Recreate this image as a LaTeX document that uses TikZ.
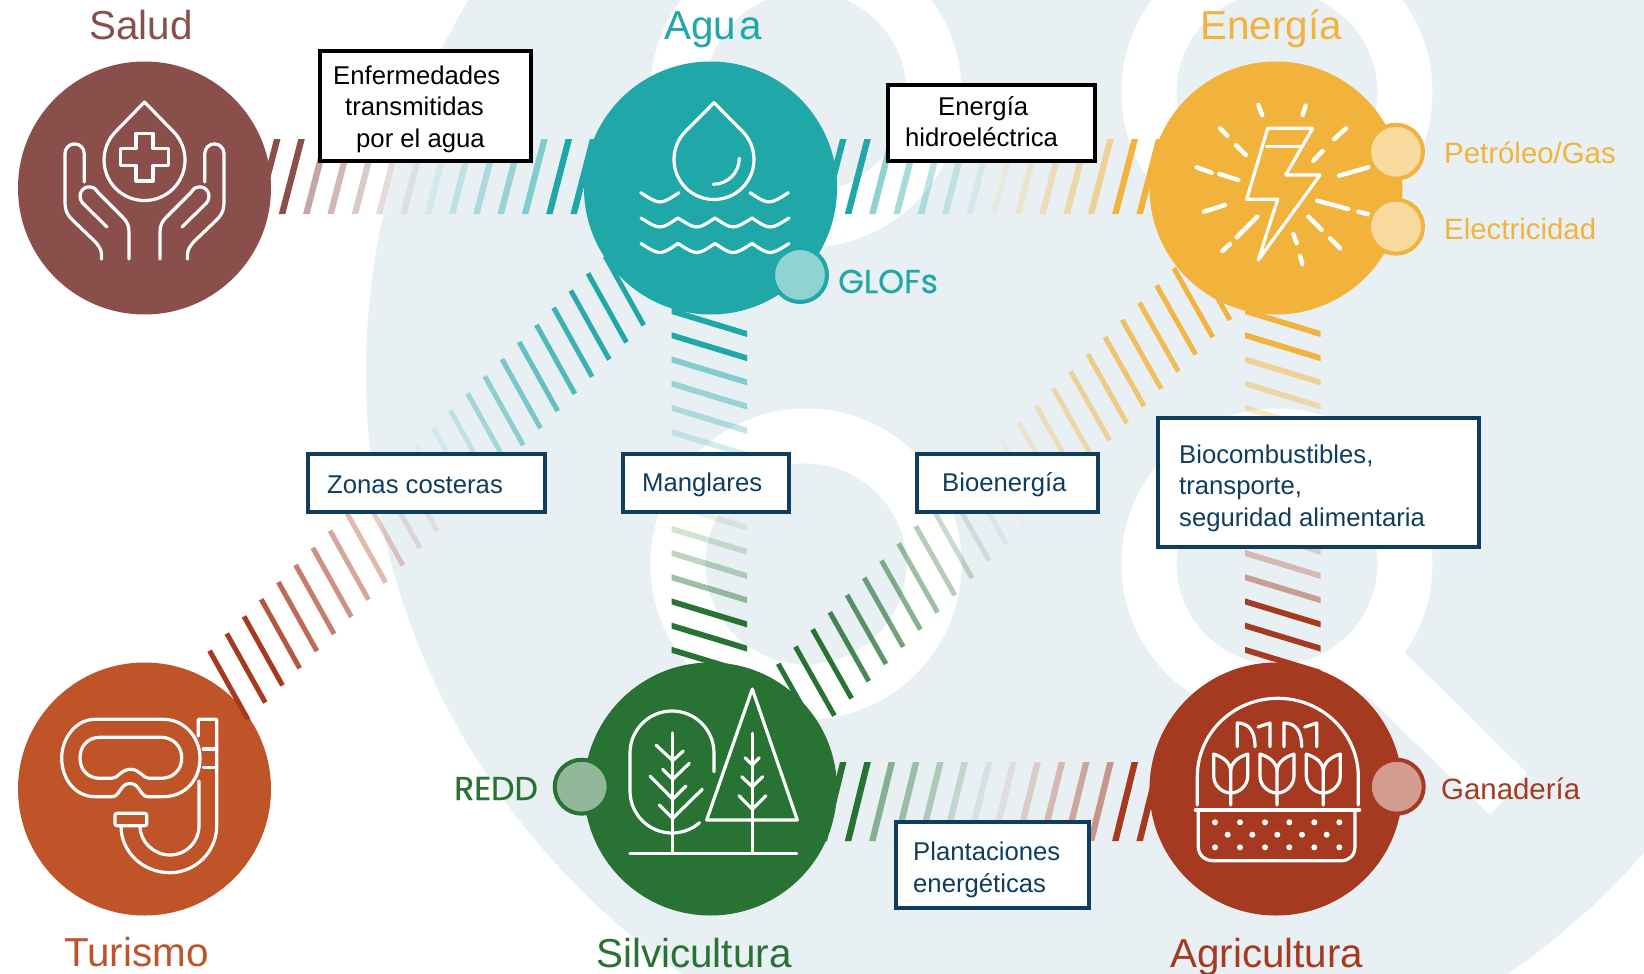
\documentclass[tikz,border=0pt]{standalone}
\usepackage{fontspec}
\setmainfont{Liberation Sans}
\newfontfamily\tagfont[FakeBold=0.5]{Poppins}
\definecolor{colSalud}{HTML}{8A4F4A}
\definecolor{colAgua}{HTML}{20A7A7}
\definecolor{colEnergia}{HTML}{F2B33D}
\definecolor{colTurismo}{HTML}{BF5429}
\definecolor{colSilvi}{HTML}{287234}
\definecolor{colAgri}{HTML}{A63A20}
\definecolor{colNavy}{HTML}{0E3D5F}
\definecolor{colBack}{HTML}{E8F0F4}
\tikzset{
  sector/.style={circle,inner sep=0,minimum size=253,fill=#1},
  spot/.style={circle,inner sep=0,minimum size=54,line width=4,draw=#1,fill=#1!50!white},
  heading/.style={inner sep=0,anchor=base west,text=#1,font=\fontsize{40.4}{44}\selectfont},
  tag/.style={inner sep=0,anchor=base west,text=#1,font=\fontsize{29.4}{32}\selectfont},
  plate/.style={draw=#1,fill=white,line width=3.8,inner sep=0},
  platetext/.style={inner sep=0,anchor=west,align=left,text=#1,font=\fontsize{25.7}{31.5}\selectfont},
  icon/.style={white,line width=3.2,line cap=round,line join=round},
  ray/.style={white,line width=4.4,line cap=round},
}
% Bands between two sectors
\newcommand{\rowhatch}[5]{%
  \foreach \n/\o in {0/1,1/1,2/.5,3/.4,4/.3,5/.2,6/.1}
    \fill [#2, opacity=\o] ([shift={({110+24.3*\n},#4)}]#1.center) -- ++(6.5,0) -- ++(19.5,-#5) -- ++(-6.5,0) -- cycle;
  \foreach \n/\o in {7/.1,8/.2,9/.3,10/.4,11/.5,12/1,13/1}
    \fill [#3, opacity=\o] ([shift={({110+24.3*\n},#4)}]#1.center) -- ++(6.5,0) -- ++(19.5,-#5) -- ++(-6.5,0) -- cycle;
}
\newcommand{\colhatch}[4]{%
  \foreach \n/\o in {0/1,1/1,2/.5,3/.4,4/.3,5/.2,6/.1}
    \fill [#3, opacity=\o] ([shift={(#2,{120+24.2*\n})}]#1.center) -- ++(75.6,23) -- ++(0,6) -- ++(-75.6,-23) -- cycle;
  \foreach \n/\o in {8/.1,9/.2,10/.3,11/.45,12/1,13/1,14/1}
    \fill [#4, opacity=\o] ([shift={(#2,{120+24.2*\n})}]#1.center) -- ++(75.6,23) -- ++(0,6) -- ++(-75.6,-23) -- cycle;
}
\begin{document}
\begin{tikzpicture}[x=1pt,y=-1pt]
\useasboundingbox (0,0) rectangle (1644,974);
\clip (0,0) rectangle (1644,974);
%
% Backdrop
\fill [white] (0,0) rectangle (1644,974);
\fill [colBack] (1095,373) circle (729);
\foreach \x/\y in {806/92,1277/92,806/564,1277/564} \draw [white, line width=55] (\x,\y) circle (128);
\fill [white] (1404,652) -- (1527,773) -- (1490,815) -- (1363,692) -- cycle;
%
% Sectors
\node [sector=colSalud]    (salud)        at (144.5,188) {};
\node [sector=colAgua]     (agua)         at (710.5,188) {};
\node [sector=colEnergia]  (energia)      at (1276,188)  {};
\node [sector=colTurismo]  (turismo)      at (144.5,789) {};
\node [sector=colSilvi]    (silvicultura) at (710.5,789) {};
\node [sector=colAgri]     (agricultura)  at (1276,789)  {};
%
% Hatching, rows
\rowhatch{salud}{colSalud}{colAgua}{26}{75}
\rowhatch{agua}{colAgua}{colEnergia}{26}{75}
\rowhatch{silvicultura}{colSilvi}{colAgri}{52}{79}
%
% Hatching, columns
\colhatch{agua}{-39}{colAgua}{colSilvi}
\colhatch{energia}{-31}{colEnergia}{colAgri}
%
% Hatching, diagonals
\foreach \n/\o in {0/1,1/1,2/1,3/.85,4/.75,5/.65,6/.55,7/.45,8/.35,9/.25,10/.15,11/.1}
  \draw [colAgri, line width=5, opacity=\o] ([shift={({65.1+17.2*\n},{-138.3-17.15*\n})}]turismo.center) -- ++(38.5,69);
\foreach \n/\o in {12/.05,13/.1,14/.2,15/.35,16/.45,17/.55,18/.65,19/.75,20/.85,21/.95,22/1,23/1}
  \draw [colAgua, line width=5, opacity=\o] ([shift={({65.1+17.2*\n},{-138.3-17.15*\n})}]turismo.center) -- ++(38.5,69);
\foreach \n/\o in {0/1,1/1,2/.95,3/.85,4/.8,5/.7,6/.6,7/.5,8/.4,9/.3,10/.2,11/.1,12/.05}
  \draw [colEnergia, line width=5, opacity=\o] ([shift={({-85-17.2*\n},{63+17.2*\n})}]energia.center) -- ++(39,69);
\foreach \n/\o in {13/.08,14/.15,15/.25,16/.35,17/.45,18/.55,19/.65,20/.75,21/.85,22/1,23/1,24/1}
  \draw [colSilvi, line width=5, opacity=\o] ([shift={({-85-17.2*\n},{63+17.2*\n})}]energia.center) -- ++(39,69);
%
% Drop and hands
\draw [icon] (144.5,102) -- (115.9,131.4) arc (-135:-405:40.5) -- cycle;
\draw [icon] (136,133.3) -- (153,133.3) -- (153,148.5) -- (168.4,148.5) -- (168.4,165.5) -- (153,165.5) -- (153,181)
             -- (136,181) -- (136,165.5) -- (120.5,165.5) -- (120.5,148.5) -- (136,148.5) -- cycle;
\foreach \s in {1,-1} {
  \begin{scope}[shift={(144.5,0)}, xscale=\s]
    \draw [icon] (-60.3,182) -- (-60.3,153.5) arc (0:-180:9.6) -- (-79.5,201.7) .. controls (-79.5,212) and (-76,216) .. (-72,220)
                 -- (-49,242) .. controls (-45,247) and (-43,250) .. (-43,255) -- (-43,259);
    \draw [icon] (-37.5,227) -- (-62,203) .. controls (-68,195) and (-62,186) .. (-54.5,187) .. controls (-50,187) and (-48,190) .. (-46,193)
                 -- (-22,217) .. controls (-17,222) and (-15.5,226) .. (-15.5,232) -- (-15.5,259);
  \end{scope}
}
%
% Water
\draw [icon] (714,102.7) -- (685.7,131.2) arc (-135:-405:40) -- cycle;
\draw [icon] (713.3,184.3) arc (90:0:26);
\draw [icon] (640.7,192.7) .. controls (660,205) .. (679,192.7);
\draw [icon] (750,192.7) .. controls (769,205) .. (788.3,192.7);
\foreach \y in {218,243.5}
  \draw [icon, shift={(0,\y)}] (641,0) .. controls (660,12) .. (678,0) .. controls (697,12) .. (715,0) .. controls (733,12) .. (752,0) .. controls (770,12) .. (789,0);
%
% Bolt
\draw [icon] (1267.7,128.3) -- (1312.7,128.3) -- (1285.7,175) -- (1320,175) -- (1258.3,260) -- (1277.7,199.3) -- (1246.7,199.3) -- cycle;
\draw [icon] (1266.7,146.7) -- (1301.7,146.7);
\foreach \ax/\ay/\bx/\by in {1258.3/105/1262.3/115, 1305.7/105.7/1302.7/115, 1220/128.3/1227.3/135.7, 1236/145.3/1245.7/155,
    1346/128.3/1334/139.3, 1322.7/151/1313.3/160.7, 1196.7/167.3/1211.7/172.7, 1219.3/174/1238.3/180, 1368.3/167.3/1339/175.7,
    1225/205/1204/211.7, 1317.3/200.7/1348.3/209, 1358.3/211.7/1368.3/214.3, 1257.3/216.7/1236.7/237.3, 1230/244/1222.3/251,
    1308.3/216.7/1321.7/230, 1330/238.3/1340/248.3, 1293.3/234/1296.7/243.3, 1300/256/1302.3/264}
  \draw [ray] (\ax,\ay) -- (\bx,\by);
%
% Mask and snorkel
\draw [icon] (95,719.3) -- (163.3,719.3) .. controls (185,719.3) and (200,738) .. (200,758) .. controls (200,780) and (185,796.7) .. (163.3,796.7)
             -- (148,796.7) .. controls (140,796.7) and (140,783.5) .. (130,783.5) .. controls (120,783.5) and (120,796.7) .. (112,796.7)
             -- (95,796.7) .. controls (76,796.7) and (61.7,780) .. (61.7,758) .. controls (61.7,738) and (76,719.3) .. (95,719.3) -- cycle;
\draw [icon] (100,737.3) -- (161,737.3) .. controls (173,737.3) and (181.7,746) .. (181.7,758) .. controls (181.7,770) and (173,778.3) .. (161,778.3)
             -- (149,778.3) .. controls (143,778.3) and (140,769.3) .. (130.7,769.3) .. controls (121,769.3) and (118,778.3) .. (112,778.3)
             -- (100,778.3) .. controls (88,778.3) and (80,770) .. (80,758) .. controls (80,746) and (88,737.3) .. (100,737.3) -- cycle;
\draw [icon] (198.3,736) -- (198.3,719.3) -- (216.7,719.3) -- (216.7,826) .. controls (216.7,852) and (195,872.7) .. (170,872.7)
             .. controls (143,872.7) and (121,852) .. (121,826);
\draw [icon] (199,781) -- (199,826) .. controls (199,842) and (186,855) .. (170,855) .. controls (154,855) and (140,842) .. (140,826);
\draw [icon] (203.3,749) -- (216.7,749);
\draw [icon] (203.3,767.3) -- (216.7,767.3);
\draw [icon, rounded corners=2] (115,813.3) rectangle (146.7,825.7);
%
% Trees
\draw [icon] (714,771.7) -- (714,753) arc (0:-180:42) -- (630,791) arc (180:49:42);
\draw [icon] (630,853.3) -- (796.7,853.3);
\draw [icon] (672.7,733) -- (672.7,853.3);
\foreach \ax/\ay/\m/\bx/\by in {656/745/760.7/683.3/751, 662.7/769.3/779.3/689.3/763.3, 650/776/799/686/786, 659.3/805/818.3/702.3/789.3}
  \draw [icon] (\ax,\ay) -- (672.7,\m) -- (\bx,\by);
\draw [icon] (752.3,689) -- (706.7,820) -- (797.3,820) -- cycle;
\draw [icon] (752.3,733.3) -- (752.3,853.3);
\foreach \ax/\ay/\m/\bx in {745/757.7/765/759.3, 741.7/776.7/786.7/762.7, 739/795.7/809.3/766}
  \draw [icon] (\ax,\ay) -- (752.3,\m) -- (\bx,\ay);
%
% Planter
\draw [icon] (1197.3,805) -- (1197.3,776.7) arc [start angle=180, end angle=360, x radius=80.5, y radius=78.4] -- (1358.3,805);
\draw [icon, line width=4] (1195.7,810) -- (1359.3,810);
\draw [icon] (1198.3,812.3) -- (1198.3,846.7) .. controls (1198.3,855) and (1205,860.7) .. (1213,860.7) -- (1341.7,860.7)
             .. controls (1349,860.7) and (1355,855) .. (1355,846.7) -- (1355,812.3);
\foreach \x in {1215,1240,1265,1289.3,1314.3,1339.3} {
  \fill [white] (\x,822.3) circle (3);
  \fill [white] (\x,847.3) circle (3);
}
\foreach \x in {1227.7,1252.3,1277.3,1302,1326.7} \fill [white] (\x,834.7) circle (3);
\foreach \x in {1230.7,1277,1323.3}
  \draw [icon, shift={(\x,0)}] (-17,754) -- (-17,776) .. controls (-17,786) and (-8,793) .. (0,793) .. controls (8,793) and (17,786) .. (17,776)
        -- (17,754) .. controls (8,757) and (0,762) .. (0,772) -- (0,805) (0,772) .. controls (0,762) and (-8,757) .. (-17,754);
\foreach \x in {0,46.7}
  \draw [icon, shift={(\x,0)}] (1237.3,746.7) -- (1237.3,723) .. controls (1248,723) and (1255,730) .. (1255,746.7)
        (1258,727) -- (1270,723) -- (1270,746.7);
%
% Side spots
\node [spot=colAgua]    (glofs)       at (800,275)     {};
\node [spot=colEnergia] (petroleo)    at (1396,151.7)  {};
\node [spot=colEnergia] (electricidad) at (1396,226.7) {};
\node [spot=colSilvi]   (redd)        at (581.7,786.7) {};
\node [spot=colAgri]    (ganaderia)   at (1396.7,786.7) {};
%
% Boxes
\node [plate=black, minimum width=211.5, minimum height=110.5]   (enfermedades) at (425.5,106)     {};
\node [plate=black, minimum width=207.5, minimum height=76.5]    (hidro)        at (991.5,123)     {};
\node [plate=colNavy, minimum width=237.5, minimum height=58.5]  (zonas)        at (426.5,483)     {};
\node [plate=colNavy, minimum width=166, minimum height=58.5]    (manglares)    at (705.75,483)    {};
\node [plate=colNavy, minimum width=181.5, minimum height=58.5]  (bioenergia)   at (1007.5,483)    {};
\node [plate=colNavy, minimum width=321, minimum height=129.5]   (biocomb)      at (1318.75,482.5) {};
\node [plate=colNavy, minimum width=193.5, minimum height=86.5]  (plantaciones) at (992.5,865)     {};
%
% Box texts
\node [platetext=black]   (tenfermedades) at (333,109)    {Enfermedades\\\hspace*{12pt}transmitidas\\\hspace*{23pt}por el agua};
\node [platetext=black]   (thidro)        at (905,121.6)  {\hspace*{33pt}Energía\\hidroeléctrica};
\node [platetext=colNavy] (tzonas)        at (327,484.5)  {Zonas costeras};
\node [platetext=colNavy] (tmanglares)    at (642,484.5)  {Manglares};
\node [platetext=colNavy] (tbioenergia)   at (942,484.5)  {Bioenergía};
\node [platetext=colNavy] (tbiocomb)      at (1179,488)   {Biocombustibles,\\transporte,\\seguridad alimentaria};
\node [platetext=colNavy] (tplantaciones) at (913,870)    {Plantaciones\\energéticas};
%
% Headings
\node [heading=colSalud]   (tsalud)   at (89,40)    {Salud};
\node [heading=colAgua]    (tagua)    at (664,40)   {Agu\kern3pt a};
\node [heading=colEnergia] (tenergia) at (1200,40)  {Energía};
\node [heading=colTurismo] (tturismo) at (64,966)   {Turismo};
\node [heading=colSilvi]   (tsilvi)   at (596,967)  {Silvicultura};
\node [heading=colAgri]    (tagri)    at (1170,967) {Agricultura};
%
% Side tags
\node [tag=colEnergia] (tpetroleo) at (1444,163) {Petróleo/Gas};
\node [tag=colEnergia] (telectri)  at (1444,239) {Electricidad};
\node [tag=colAgri]    (tganad)    at (1441,799) {Ganadería};
\node [tag=colAgua, font=\tagfont\fontsize{33}{36}\selectfont]  (tglofs) at (838,293) {GLOFs};
\node [tag=colSilvi, font=\tagfont\fontsize{33}{36}\selectfont] (tredd)  at (454,800) {REDD};
\end{tikzpicture}
\end{document}
